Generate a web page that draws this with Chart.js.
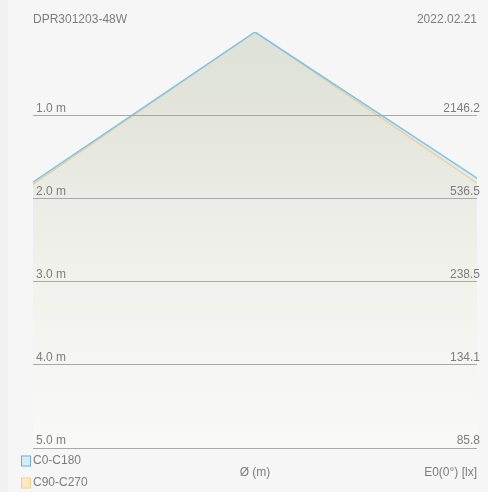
<!DOCTYPE html>
<html>
<head>
<meta charset="utf-8">
<script src="https://cdn.jsdelivr.net/npm/chart.js@4/dist/chart.umd.min.js"></script>
<style>
  html, body { margin: 0; padding: 0; background: #f5f5f5; }
  #wrap { width: 488px; height: 492px; position: relative; }
</style>
</head>
<body>
<div id="wrap"><canvas id="cone" width="488" height="492"></canvas></div>
<script>
// distances below the luminaire (m) and centre illuminance E0 at each (lx)
var distances = [1, 2, 3, 4, 5];
var illuminance = [2146.2, 536.5, 238.5, 134.1, 85.8];
// half-width of the beam cone at 5 m, left / right (m)
var c0c180Edge = [-7.4, 7.6];
var c90c270Edge = [-7.3, 7.35];
var maxDistance = 5;
var halfSpan = 2.67;

var productName = 'DPR301203-48W';
var dateText = '2022.02.21';

function conePoints(edge){
    return [
        {x: edge[0], y: maxDistance},
        {x: 0, y: 0},
        {x: edge[1], y: maxDistance}
    ];
}

var textColor = '#7d7d7d';
var font = '12px "Liberation Sans", Arial, sans-serif';

var decorations = {
    id: 'decorations',
    beforeDraw(chart){
        var ctx = chart.ctx;
        ctx.save();
        ctx.fillStyle = '#f6f6f6';
        ctx.fillRect(0, 0, chart.width, chart.height);
        ctx.fillStyle = '#f1f1f1';
        ctx.fillRect(0, 0, 8, chart.height);
        ctx.restore();
    },
    afterDraw(chart){
        var ctx = chart.ctx;
        var a = chart.chartArea;
        ctx.save();
        ctx.font = font;
        ctx.fillStyle = textColor;
        ctx.textBaseline = 'middle';
        ctx.textAlign = 'left';
        ctx.fillText(productName, a.left, 20);
        ctx.textAlign = 'right';
        ctx.fillText(dateText, a.right, 20);

        ctx.textAlign = 'center';
        ctx.fillText('\u00D8 (m)', (a.left + a.right) / 2, 473);
        ctx.textAlign = 'right';
        ctx.fillText('E0(0\u00B0) [lx]', a.right, 473);

        // legend
        var items = [
            {label: 'C0-C180', stroke: '#5fb0e0', fill: '#d8ecf8', y: 461},
            {label: 'C90-C270', stroke: '#f0cf8e', fill: '#fbe8c2', y: 483}
        ];
        items.forEach(function(it){
            ctx.fillStyle = it.fill;
            ctx.fillRect(22, it.y - 4.5, 8, 9);
            ctx.strokeStyle = it.stroke;
            ctx.lineWidth = 1;
            ctx.strokeRect(21.5, it.y - 5, 9, 10);
            ctx.fillStyle = textColor;
            ctx.textAlign = 'left';
            ctx.fillText(it.label, 33, it.y);
        });
        ctx.restore();
    }
};

var tickFont = {family: '"Liberation Sans", Arial, sans-serif', size: 12};

var ctx = document.getElementById('cone').getContext('2d');
var chart = new Chart(ctx, {
    type: 'line',
    data: {
        datasets: [{
            label: 'C0-C180',
            data: conePoints(c0c180Edge),
            borderColor: '#7cc4ee',
            borderWidth: 1.5,
            pointRadius: 0,
            tension: 0,
            fill: {value: maxDistance},
            backgroundColor: function(c){
                var area = c.chart.chartArea;
                if (!area){
                    return '#ebebe5';
                }
                var g = c.chart.ctx.createLinearGradient(0, area.top, 0, area.bottom);
                g.addColorStop(0, '#dde1d6');
                g.addColorStop(0.2, '#e3e5dc');
                g.addColorStop(0.4, '#ebece5');
                g.addColorStop(0.6, '#f1f2ec');
                g.addColorStop(0.8, '#f5f6f1');
                g.addColorStop(1, '#f9f9f6');
                return g;
            }
        }, {
            label: 'C90-C270',
            data: conePoints(c90c270Edge),
            borderColor: '#ecca94',
            borderWidth: 1.2,
            pointRadius: 0,
            tension: 0,
            fill: false
        }]
    },
    options: {
        responsive: false,
        animation: false,
        events: [],
        layout: {padding: {left: 33, right: 11, top: 32, bottom: 44}},
        plugins: {
            legend: {display: false},
            tooltip: {enabled: false},
            filler: {drawTime: 'beforeDatasetsDraw'}
        },
        scales: {
            x: {
                type: 'linear',
                display: false,
                min: -halfSpan,
                max: halfSpan
            },
            y: {
                type: 'linear',
                position: 'left',
                reverse: true,
                min: 0,
                max: maxDistance,
                afterFit: function(s){ s.width = 0; },
                border: {display: false},
                grid: {
                    z: 1,
                    drawTicks: false,
                    color: function(c){ return c.tick && c.tick.value === 0 ? 'rgba(0,0,0,0)' : '#a9a9a9'; },
                    lineWidth: 1
                },
                ticks: {
                    z: 1,
                    stepSize: 1,
                    mirror: true,
                    padding: 3,
                    labelOffset: -7,
                    color: textColor,
                    font: tickFont,
                    callback: function(v){
                        return distances.indexOf(v) < 0 ? '' : v.toFixed(1) + ' m';
                    }
                }
            },
            y2: {
                type: 'linear',
                position: 'right',
                reverse: true,
                min: 0,
                max: maxDistance,
                afterFit: function(s){ s.width = 0; },
                border: {display: false},
                grid: {display: false, drawTicks: false},
                ticks: {
                    z: 1,
                    stepSize: 1,
                    mirror: true,
                    padding: 3,
                    labelOffset: -7,
                    color: textColor,
                    font: tickFont,
                    callback: function(v){
                        var i = distances.indexOf(v);
                        return i < 0 ? '' : illuminance[i].toFixed(1);
                    }
                }
            }
        }
    },
    plugins: [decorations]
});
</script>
</body>
</html>
